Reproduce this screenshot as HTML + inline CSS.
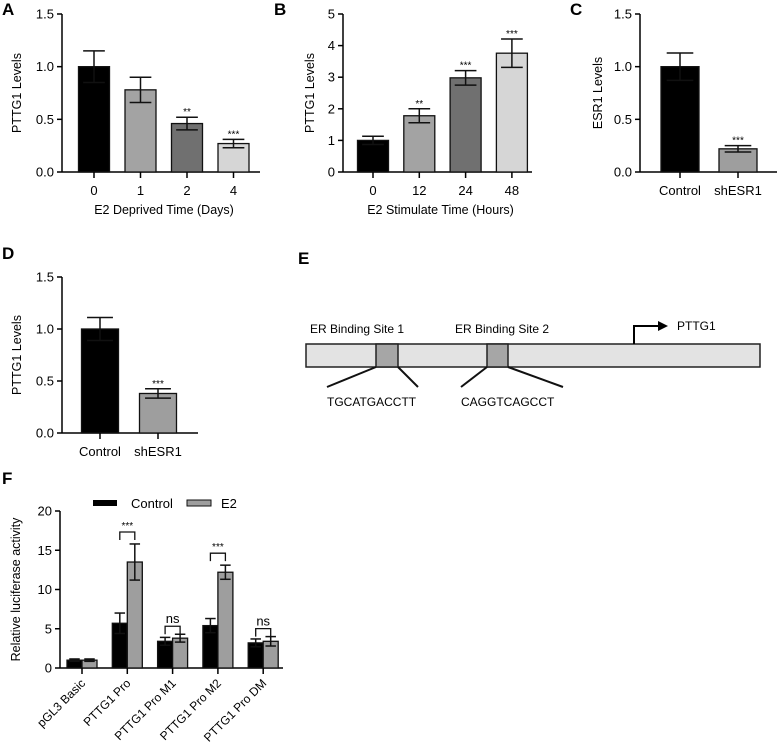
<!DOCTYPE html>
<html><head><meta charset="utf-8"><style>
html,body{margin:0;padding:0;background:#fff;}
svg{display:block;font-family:"Liberation Sans",Arial,sans-serif;}
</style></head><body>
<svg id="fig" width="778" height="752" viewBox="0 0 778 752">
<g font-weight="bold" font-size="17" fill="#000">
<text x="2" y="15">A</text>
<text x="274" y="15">B</text>
<text x="570" y="15">C</text>
<text x="2" y="259">D</text>
<text x="298" y="264">E</text>
<text x="2" y="484">F</text>
</g>
<g id="diagram" font-size="12">
<rect x="306" y="344" width="454" height="23" fill="#e3e3e3" stroke="#222" stroke-width="1.5"/>
<rect x="376" y="344" width="22" height="23" fill="#a6a6a6" stroke="#222" stroke-width="1.5"/>
<rect x="487" y="344" width="21" height="23" fill="#a6a6a6" stroke="#222" stroke-width="1.5"/>
<g stroke="#111" stroke-width="2">
<line x1="376" y1="367" x2="327" y2="387"/><line x1="398" y1="367" x2="418" y2="387"/>
<line x1="487" y1="367" x2="461" y2="387"/><line x1="508" y1="367" x2="563" y2="387"/>
</g>
<text x="310" y="333">ER Binding Site 1</text>
<text x="455" y="333">ER Binding Site 2</text>
<text x="327" y="406">TGCATGACCTT</text>
<text x="461" y="406">CAGGTCAGCCT</text>
<path d="M634 344 V326 H660" fill="none" stroke="#000" stroke-width="2"/>
<path d="M658 321 L668 326 L658 331 Z" fill="#000"/>
<text x="677" y="330">PTTG1</text>
</g>
</svg>
<script>
// Panel A
const aCats=["0","1","2","4"], aVals=[1.0,0.78,0.46,0.27], aErr=[0.15,0.12,0.06,0.04], aSig=["","","**","***"], aTicks=[0,0.5,1.0,1.5];
// Panel B
const bCats=["0","12","24","48"], bVals=[1.0,1.78,2.98,3.76], bErr=[0.13,0.22,0.23,0.45], bSig=["","**","***","***"], bTicks=[0,1,2,3,4,5];
// Panel C
const cCats=["Control","shESR1"], cVals=[1.0,0.22], cErr=[0.13,0.03], cSig=["","***"], cTicks=[0,0.5,1.0,1.5];
// Panel D
const dCats=["Control","shESR1"], dVals=[1.0,0.38], dErr=[0.11,0.045], dSig=["","***"], dTicks=[0,0.5,1.0,1.5];
// Panel F
const fCats=["pGL3 Basic","PTTG1 Pro","PTTG1 Pro M1","PTTG1 Pro M2","PTTG1 Pro DM"];
const fCtrl=[1.0,5.7,3.4,5.4,3.2], fCtrlErr=[0.15,1.3,0.5,0.9,0.5];
const fE2=[1.0,13.5,3.8,12.2,3.4], fE2Err=[0.15,2.3,0.5,0.9,0.6];
const fSig=["","***","ns","***","ns"], fTicks=[0,5,10,15,20];

const NS="http://www.w3.org/2000/svg", svg=document.getElementById('fig');
function el(t,a,p){const e=document.createElementNS(NS,t);for(const k in a)e.setAttribute(k,a[k]);(p||svg).appendChild(e);return e;}
function txt(s,a,p){const e=el('text',a,p);e.textContent=s;return e;}

function chart(o){
  const g=el('g',{});
  
  
  const max=o.ticks[o.ticks.length-1];
  const y=v=>o.y0-(v/max)*(o.y0-o.yTop);
  el('line',{x1:o.ax,y1:o.yTop,x2:o.ax,y2:o.y0+0.5,stroke:'#000','stroke-width':1.5},g);
  el('line',{x1:o.ax,y1:o.y0,x2:o.axEnd,y2:o.y0,stroke:'#000','stroke-width':1.5},g);
  o.ticks.forEach(t=>{
    el('line',{x1:o.ax-5,y1:y(t),x2:o.ax,y2:y(t),stroke:'#000','stroke-width':1.5},g);
    const tl=txt(o.fmt(t),{x:o.ax-8,y:y(t)+4.5,'font-size':13,'text-anchor':'end'},g);
    
    
  });
  const yt=txt(o.ytitle,{x:0,y:0,'font-size':12.5,'text-anchor':'middle',transform:`translate(${o.ytx},${(o.y0+o.yTop)/2}) rotate(-90)`},g);
  
  
  return {g,y};
}
function bar(g,y,cx,w,v,e,fill,y0){
  const r=el('rect',{x:cx-w/2,y:y(v),width:w,height:y0-y(v),fill:fill,stroke:'#111','stroke-width':1.3},g);
  
  
  const cw=w*0.35;
  el('line',{x1:cx,y1:y(v-e),x2:cx,y2:y(v+e),stroke:'#111','stroke-width':1.5},g);
  el('line',{x1:cx-cw,y1:y(v+e),x2:cx+cw,y2:y(v+e),stroke:'#111','stroke-width':1.5},g);
  el('line',{x1:cx-cw,y1:y(v-e),x2:cx+cw,y2:y(v-e),stroke:'#111','stroke-width':1.5},g);
}
function simple(o,cats,vals,errs,sig,fills){
  const {g,y}=chart(o);
  cats.forEach((c,i)=>{
    const cx=o.c0+i*o.step;
    bar(g,y,cx,o.bw,vals[i],errs[i],fills[i],o.y0);
    el('line',{x1:cx,y1:o.y0,x2:cx,y2:o.y0+6,stroke:'#000','stroke-width':1.5},g);
    const tl=txt(c,{x:cx,y:o.y0+23,'font-size':13,'text-anchor':'middle'},g);
    
    
    if(sig[i]){const s=txt(sig[i],{x:cx,y:y(vals[i]+errs[i])-2,'font-size':10,'text-anchor':'middle'},g);
      
      }
  });
  if(o.xtitle){const xt=txt(o.xtitle,{x:(o.ax+o.axEnd)/2+3,y:o.y0+42,'font-size':12.5,'text-anchor':'middle'},g);
    
    }
}
const f1=t=>t.toFixed(1), f0=t=>String(t);
const grays=["#000","#a3a3a3","#707070","#d6d6d6"];
simple({name:'panel-a-chart',ax:62,axEnd:260,yTop:14,y0:172,c0:94,step:46.5,bw:31,ticks:aTicks,fmt:f1,ytitle:'PTTG1 Levels',ytx:21,xtitle:'E2 Deprived Time (Days)'},aCats,aVals,aErr,aSig,grays);
simple({name:'panel-b-chart',ax:343,axEnd:532,yTop:14,y0:172,c0:373,step:46.3,bw:31,ticks:bTicks,fmt:f0,ytitle:'PTTG1 Levels',ytx:314,xtitle:'E2 Stimulate Time (Hours)'},bCats,bVals,bErr,bSig,grays);
simple({name:'panel-c-chart',ax:640,axEnd:777,yTop:14,y0:172,c0:680,step:58,bw:38,ticks:cTicks,fmt:f1,ytitle:'ESR1 Levels',ytx:602},cCats,cVals,cErr,cSig,["#000","#9e9e9e"]);
simple({name:'panel-d-chart',ax:62,axEnd:198,yTop:277,y0:433,c0:100,step:58,bw:37,ticks:dTicks,fmt:f1,ytitle:'PTTG1 Levels',ytx:21},dCats,dVals,dErr,dSig,["#000","#9e9e9e"]);

// Panel F
(function(){
  const o={name:'panel-f-chart',ax:60,axEnd:283,yTop:511,y0:668,ticks:fTicks,fmt:f0,ytitle:'Relative luciferase activity',ytx:20};
  const {g,y}=chart(o);
  const c0=82,step=45.3,bw=15;
  fCats.forEach((c,i)=>{
    const cx=c0+i*step;
    bar(g,y,cx-bw/2,bw,fCtrl[i],fCtrlErr[i],'#000',o.y0);
    bar(g,y,cx+bw/2,bw,fE2[i],fE2Err[i],'#9e9e9e',o.y0);
    el('line',{x1:cx,y1:o.y0,x2:cx,y2:o.y0+6,stroke:'#000','stroke-width':1.5},g);
    const tl=txt(c,{x:0,y:0,'font-size':12,'text-anchor':'end',transform:`translate(${cx+4},${o.y0+16}) rotate(-45)`},g);
    
    
    if(fSig[i]){
      const top=Math.max(fCtrl[i]+fCtrlErr[i],fE2[i]+fE2Err[i]);
      const by=y(top)-5-(fSig[i]==='ns'?3:0);
      const by0=fSig[i]==='***'?y(fE2[i]+fE2Err[i])-12:y(top)-5;
      const yb=Math.min(by,by0);
      el('path',{d:`M${cx-bw/2} ${yb+8} V${yb} H${cx+bw/2} V${yb+8}`,fill:'none',stroke:'#111','stroke-width':1.3},g);
      const s=txt(fSig[i],{x:cx,y:yb-3,'font-size':fSig[i]==='ns'?13:10,'text-anchor':'middle'},g);
      
      
    }
  });
  const lg=el('g',{},g);
  
  
  el('rect',{x:93,y:500,width:24,height:6,fill:'#000'},lg);
  txt('Control',{x:131,y:508,'font-size':13},lg);
  el('rect',{x:187,y:500,width:24,height:6,fill:'#9e9e9e',stroke:'#111','stroke-width':1},lg);
  txt('E2',{x:221,y:508,'font-size':13},lg);
})();
</script>
</body></html>
